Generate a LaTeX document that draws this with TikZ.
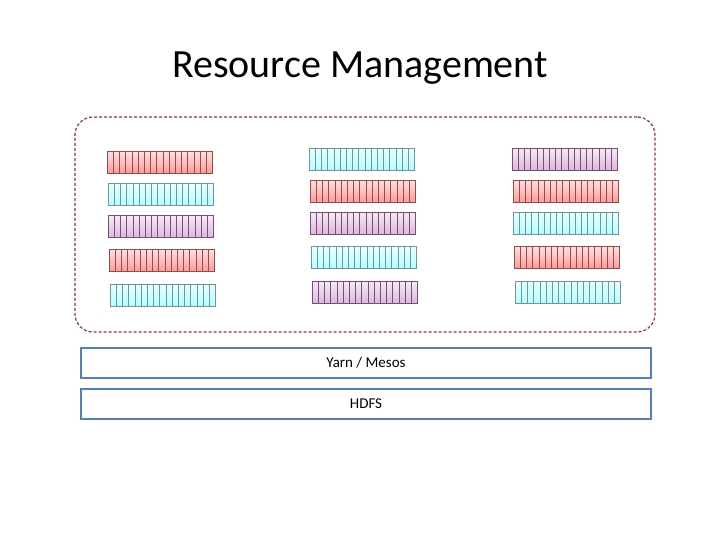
\documentclass[tikz,border=0pt]{standalone}
\usepackage{fontspec}
\setmainfont{Carlito}
\definecolor{lb}{HTML}{4F81BD}
\begin{document}
\begin{tikzpicture}[x=1pt,y=-1pt,
  redb/.style={top color=red!12!white,bottom color=red!40!white,draw=red!40!black!70},
  cyanb/.style={top color=cyan!10!white,bottom color=cyan!30!white,draw=cyan!40!black!70},
  purb/.style={top color=violet!8!white,bottom color=violet!28!white,draw=violet!50!black!70},
  layer/.style={draw=lb,line width=1.8pt,minimum width=570pt,minimum height=30pt,inner sep=0pt,font=\fontsize{15}{17}\selectfont}]
\useasboundingbox (0,0) rectangle (720,540);
\node (title) at (360,68) {\fontsize{40}{46}\selectfont Resource Management};
\node[draw=red!50!black!80,dash pattern=on 3pt off 2pt,line width=1.2pt,rounded corners=18pt,minimum width=580pt,minimum height=215pt] (pool) at (365,224.5) {};
\newcommand{\rbar}[4]{% x y style name
  \node[#3,minimum width=105pt,minimum height=22pt,inner sep=0pt,anchor=north west] (#4) at (#1,#2) {};
  \foreach \i in {1,...,16} \draw[#3,fill=none,shading=none,line width=0.5pt] (#1+\i*6.2,#2) -- ++(0,22);
}
\rbar{107}{151}{redb}{a1}
\rbar{108}{183}{cyanb}{a2}
\rbar{108}{215}{purb}{a3}
\rbar{109}{249}{redb}{a4}
\rbar{110}{284}{cyanb}{a5}
\rbar{309}{148}{cyanb}{b1}
\rbar{310}{180}{redb}{b2}
\rbar{310}{212}{purb}{b3}
\rbar{311}{246}{cyanb}{b4}
\rbar{312}{281}{purb}{b5}
\rbar{512}{148}{purb}{c1}
\rbar{513}{180}{redb}{c2}
\rbar{513}{212}{cyanb}{c3}
\rbar{514}{246}{redb}{c4}
\rbar{515}{281}{cyanb}{c5}
\node[layer] (yarn) at (366,363) {Yarn / Mesos};
\node[layer] (hdfs) at (366,404) {HDFS};
\end{tikzpicture}
\end{document}
